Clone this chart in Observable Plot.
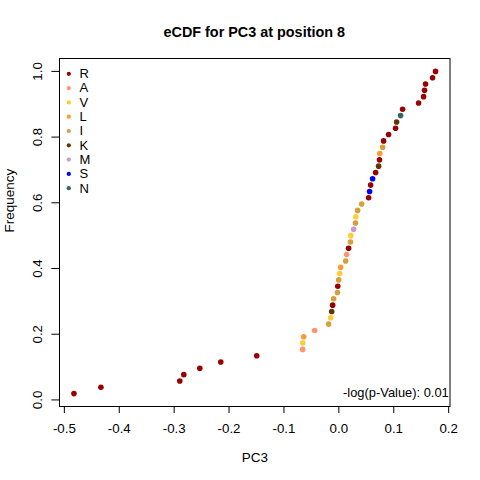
<!DOCTYPE html>
<html>
<head>
<meta charset="utf-8">
<script src="https://cdn.jsdelivr.net/npm/d3@7"></script>
<script src="https://cdn.jsdelivr.net/npm/@observablehq/plot@0.6"></script>
<style>
  body { margin: 0; background: #fff; font-family: "Liberation Sans", Arial, sans-serif; }
  #title { height: 46px; box-sizing: border-box; padding-top: 24.5px; margin-left: 59px; width: 390.5px;
           text-align: center; font-weight: bold; font-size: 14.4px; line-height: 14.4px; color: #000; }
</style>
</head>
<body>
<div id="title">eCDF for PC3 at position 8</div>
<div id="chart"></div>
<script>
// PC3 values (sorted) and residue at each point
const pc3 = [
  -0.4825, -0.4334, -0.2897, -0.2824, -0.2533, -0.2151, -0.1496,
  -0.0660, -0.0657, -0.0640, -0.0440, -0.0186, -0.0149, -0.0131, -0.0113, -0.0095,
  -0.0025, -0.0020, -0.0004, 0.0015, 0.0033, 0.0124, 0.0142, 0.0178, 0.0212, 0.0218,
  0.0269, 0.0303, 0.0309, 0.0342, 0.0415, 0.0542, 0.0560, 0.0579, 0.0615, 0.0670,
  0.0724, 0.0740, 0.0745, 0.0797, 0.0815, 0.0906, 0.1033, 0.1052, 0.1124, 0.1161,
  0.1452, 0.1543, 0.1561, 0.1579, 0.1707, 0.1761
];
const residue = [
  "R","R","R","R","R","R","R",
  "A","V","L","A","I","V","K","R","I",
  "I","R","I","V","L","I","A","R","I","V",
  "M","I","V","I","I","R","S","R","S","R",
  "K","R","L","I","R","R","R","K","N","R",
  "R","R","R","R","R","R"
];
const legendLetters = ["R","A","V","L","I","K","M","S","N"];
const legendColors  = ["#990000","#FF9470","#FFCC33","#FF9933","#D4A03A","#663300","#CC99CC","#0000FF","#336666"];
const xTicks = [-0.5, -0.4, -0.3, -0.2, -0.1, 0, 0.1, 0.2];
const yTicks = [0, 0.2, 0.4, 0.6, 0.8, 1.0];
const pValueText = "-log(p-Value): 0.01";
const xLabel = "PC3";
const yLabel = "Frequency";

const n = pc3.length;
const pts = pc3.map((v, i) => ({x: v, aa: residue[i]}))
  .sort((a, b) => a.x - b.x)
  .map((d, i) => ({...d, y: (i + 1) / n}));

// R-style 4% axis extension
const xr = d3.extent(pts, d => d.x), yr = d3.extent(pts, d => d.y);
const xpad = (xr[1] - xr[0]) * 0.04, ypad = (yr[1] - yr[0]) * 0.04;

const font = "Liberation Sans, Arial, sans-serif";
const legendMarks = legendLetters.flatMap((l, i) => [
  Plot.dot([l], {frameAnchor: "top-left", dx: 9.3, dy: 15.3 + 14.3 * i, r: 2.1, fill: d => d}),
  Plot.text([l], {frameAnchor: "top-left", dx: 20, dy: 15.5 + 14.3 * i, text: d => d,
                  textAnchor: "start", lineAnchor: "middle", fontSize: 13, fill: "black"})
]);

const chart = Plot.plot({
  width: 480,
  height: 434,
  marginLeft: 59,
  marginRight: 30.5,
  marginTop: 12,
  marginBottom: 74,
  style: {fontFamily: font, background: "white", color: "black"},
  x: {domain: [xr[0] - xpad, xr[1] + xpad]},
  y: {domain: [yr[0] - ypad, yr[1] + ypad]},
  color: {domain: legendLetters, range: legendColors},
  marks: [
    Plot.axisX(xTicks, {tickSize: 7, tickPadding: 10, fontSize: 13.3, tickFormat: d => d.toFixed(1), label: null}),
    Plot.axisY(yTicks, {tickSize: 7.6, tickPadding: 10, fontSize: 13.3, tickRotate: -90, tickFormat: d => d.toFixed(1), label: null}),
    Plot.dot(pts, {x: "x", y: "y", fill: "aa", r: 2.8}),
    Plot.frame({stroke: "black"}),
    Plot.text([xLabel], {frameAnchor: "bottom", dy: 50.7, lineAnchor: "middle", text: d => d, fontSize: 13.5, fill: "black"}),
    Plot.text([yLabel], {frameAnchor: "left", dx: -49.5, rotate: -90, lineAnchor: "middle", text: d => d, fontSize: 13.5, fill: "black"}),
    Plot.text([pValueText], {frameAnchor: "bottom-right", dx: -1.2, dy: -13.7, textAnchor: "end", lineAnchor: "middle", text: d => d, fontSize: 12.9, fill: "black"}),
    ...legendMarks
  ]
});
document.getElementById("chart").appendChild(chart);
</script>
</body>
</html>
